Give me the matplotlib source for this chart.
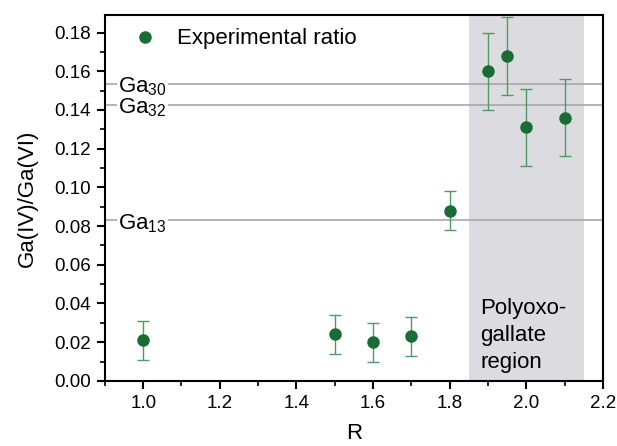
import numpy as np
import matplotlib
matplotlib.use("Agg")
from matplotlib import pyplot as plt
from matplotlib.ticker import MultipleLocator

# daten
R = [1.0, 1.5, 1.6, 1.7, 1.8, 1.9, 1.95, 2.0, 2.1]
ratio = [0.021, 0.024, 0.020, 0.023, 0.088, 0.160, 0.168, 0.131, 0.136]
err = [0.010, 0.010, 0.010, 0.010, 0.010, 0.020, 0.020, 0.020, 0.020]

ref_names = ["Ga$_{30}$", "Ga$_{32}$", "Ga$_{13}$"]
ref_values = [0.1536, 0.1427, 0.0829]

region = [1.85, 2.15]

plt.rcParams['font.family'] = ['Liberation Sans', 'DejaVu Sans']
plt.rcParams['mathtext.fontset'] = 'custom'
plt.rcParams['mathtext.rm'] = 'Liberation Sans'
plt.rcParams['mathtext.it'] = 'Liberation Sans:italic'
plt.rcParams['mathtext.bf'] = 'Liberation Sans:bold'

fig = plt.figure(figsize=(6.17, 4.46), dpi=100)
ax = fig.add_axes([0.170, 0.146, 0.807, 0.820])

ax.axvspan(region[0], region[1], color='#dcdce0', lw=0, zorder=0)

for name, val in zip(ref_names, ref_values):
    ax.axhline(val, color='#a8a8a8', lw=1.2, zorder=1)
    ax.text(0.934, val - 0.0015, name, fontsize=16, va='center', ha='left', zorder=2,
            bbox=dict(facecolor='white', edgecolor='none', pad=1.0))

eb = ax.errorbar(R, ratio, yerr=err, fmt='o', color='#1b6b36', ms=8,
                 ecolor='#4e9a63', elinewidth=1.0, capsize=4, capthick=1.0, zorder=3)

ax.text(1.88, 0.004, "Polyoxo-\ngallate\nregion", fontsize=16, ha='left', va='bottom',
        linespacing=1.38, zorder=2)

ax.set_xlim(0.9, 2.2)
ax.set_ylim(0.0, 0.189)
ax.xaxis.set_major_locator(MultipleLocator(0.2))
ax.xaxis.set_minor_locator(MultipleLocator(0.1))
ax.yaxis.set_major_locator(MultipleLocator(0.02))
ax.yaxis.set_minor_locator(MultipleLocator(0.01))
ax.xaxis.set_major_formatter(plt.FuncFormatter(lambda v, p: f"{v:.1f}"))
ax.yaxis.set_major_formatter(plt.FuncFormatter(lambda v, p: f"{v:.2f}"))

ax.tick_params(which='major', direction='out', length=6, width=1.5, labelsize=13.5, pad=4)
ax.tick_params(which='minor', direction='out', length=3.5, width=1.2)
for s in ax.spines.values():
    s.set_linewidth(1.5)

ax.set_xlabel("R", fontsize=16, labelpad=8)
ax.set_ylabel("Ga(IV)/Ga(VI)", fontsize=16, labelpad=12)

ax.legend(handles=[eb[0]], labels=['Experimental ratio'], loc='upper left',
          frameon=False, fontsize=16, handletextpad=0.8, handlelength=1.2,
          borderaxespad=0.2, bbox_to_anchor=(0.028, 1.0))

fig.savefig("out.png", dpi=100)
